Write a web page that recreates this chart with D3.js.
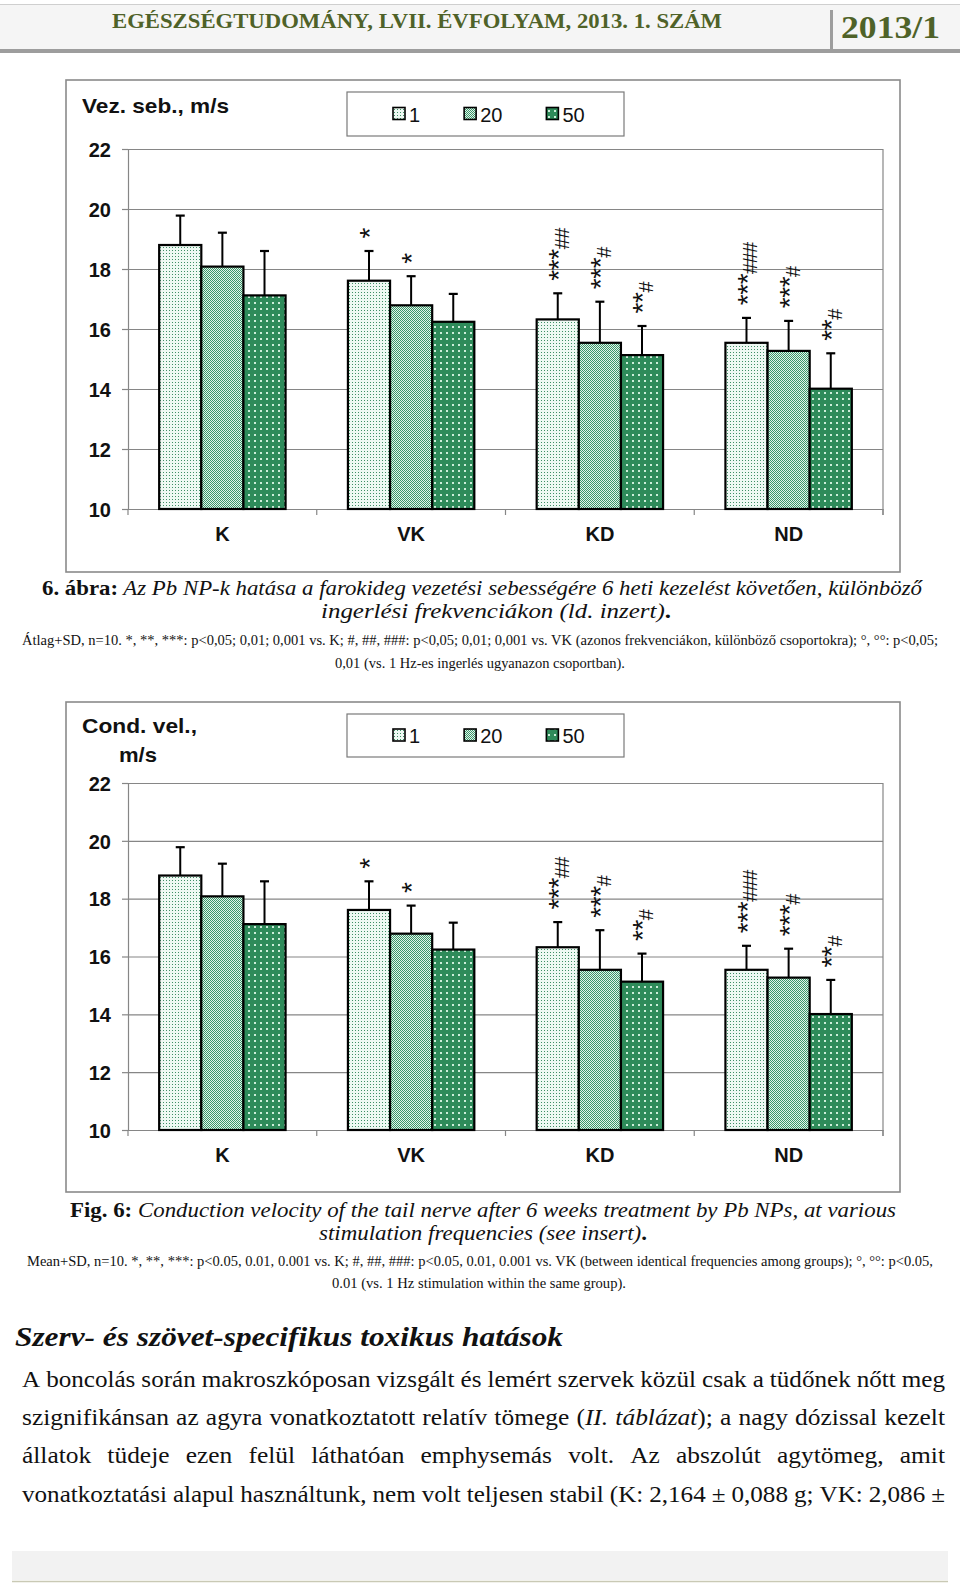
<!DOCTYPE html>
<html><head><meta charset="utf-8">
<script src="https://cdn.jsdelivr.net/npm/d3@7"></script>
<style>body{margin:0;background:#fff} svg{display:block}</style>
</head><body>
<svg id="c" width="960" height="1590"></svg>
<script>
// ---------- DATA ----------
const categories = ["K", "VK", "KD", "ND"];
const series = ["1", "20", "50"];
const mean1Hz  = [18.80, 17.61, 16.32, 15.54];
const mean20Hz = [18.08, 16.79, 15.54, 15.27];
const mean50Hz = [17.12, 16.24, 15.13, 14.01];
const sd1Hz  = [0.98, 0.99, 0.87, 0.83];
const sd20Hz = [1.13, 0.97, 1.37, 1.00];
const sd50Hz = [1.48, 0.93, 0.97, 1.18];
const sig1Hz  = ["", "*", "***##", "***###"];
const sig20Hz = ["", "*", "***#", "***#"];
const sig50Hz = ["", "", "**#", "**#"];
const yTicks = [10, 12, 14, 16, 18, 20, 22];
const yDomain = [10, 22];
const chartTitles = [["Vez. seb., m/s"], ["Cond. vel.,", "m/s"]];

const headerTitle = "EGÉSZSÉGTUDOMÁNY, LVII. ÉVFOLYAM, 2013. 1. SZÁM";
const headerIssue = "2013/1";
const captionHu = [
  [["6. ábra:", "b"], [" Az Pb NP-k hatása a farokideg vezetési sebességére 6 heti kezelést követően, különböző", "i"]],
  [["ingerlési frekvenciákon (ld. inzert)", "i"], [".", "b"]]
];
const notesHu = [
  "Átlag+SD, n=10. *, **, ***: p<0,05; 0,01; 0,001 vs. K; #, ##, ###: p<0,05; 0,01; 0,001 vs. VK (azonos frekvenciákon, különböző csoportokra); °, °°: p<0,05;",
  "0,01 (vs. 1 Hz-es ingerlés ugyanazon csoportban)."
];
const captionEn = [
  [["Fig. 6:", "b"], [" Conduction velocity of the tail nerve after 6 weeks treatment by Pb NPs, at various", "i"]],
  [["stimulation frequencies (see insert)", "i"], [".", "b"]]
];
const notesEn = [
  "Mean+SD, n=10. *, **, ***: p<0.05, 0.01, 0.001 vs. K; #, ##, ###: p<0.05, 0.01, 0.001 vs. VK (between identical frequencies among groups); °, °°: p<0.05,",
  "0.01 (vs. 1 Hz stimulation within the same group)."
];
const sectionHeading = "Szerv- és szövet-specifikus toxikus hatások";
const bodyLines = [
  "A boncolás során makroszkóposan vizsgált és lemért szervek közül csak a tüdőnek nőtt meg",
  "szignifikánsan az agyra vonatkoztatott relatív tömege ({II.} {táblázat}); a nagy dózissal kezelt",
  "állatok tüdeje ezen felül láthatóan emphysemás volt. Az abszolút agytömeg, amit",
  "vonatkoztatási alapul használtunk, nem volt teljesen stabil (K: 2,164 ± 0,088 g; VK: 2,086 ±"
];

// ---------- DRAW ----------
const svg = d3.select("#c");
svg.append("rect").attr("width", 960).attr("height", 1590).attr("fill", "#fff");
const SANS = "'Liberation Sans', Arial, sans-serif";
const SERIF = "'Liberation Serif', 'DejaVu Serif', serif";
const OLIVE = "#4f6228";

// patterns
const defs = svg.append("defs");
function pattern(id, size, bg, dots, dotColor, dotSize) {
  const p = defs.append("pattern").attr("id", id).attr("patternUnits", "userSpaceOnUse")
    .attr("width", size).attr("height", size);
  p.append("rect").attr("width", size).attr("height", size).attr("fill", bg);
  dots.forEach(d => p.append("rect").attr("x", d[0]).attr("y", d[1])
    .attr("width", dotSize).attr("height", dotSize).attr("fill", dotColor));
}
pattern("pat1", 3, "#eef9f3", [[1, 1]], "#3f8f66", 1);
pattern("pat2", 2, "#e3f3ea", [[0, 0], [1, 1]], "#3a966a", 1);
pattern("pat3", 6, "#2e8b5a", [[2, 2]], "#cdeeda", 2);
const patFor = { "1": "url(#pat1)", "20": "url(#pat2)", "50": "url(#pat3)" };

// header
const hdr = svg.append("g");
hdr.append("rect").attr("x", 0).attr("y", 4).attr("width", 960).attr("height", 46).attr("fill", "#f5f5f5");
hdr.append("line").attr("x1", 0).attr("x2", 960).attr("y1", 4.5).attr("y2", 4.5).attr("stroke", "#cfcfcf");
hdr.append("rect").attr("x", 0).attr("y", 49).attr("width", 960).attr("height", 4).attr("fill", "#9d9d9d");
hdr.append("rect").attr("x", 830).attr("y", 10).attr("width", 3).attr("height", 42).attr("fill", "#9d9d9d");
hdr.append("text").attr("x", 112).attr("y", 28).attr("font-family", SERIF).attr("font-weight", "bold")
  .attr("font-size", 22).attr("fill", OLIVE).attr("textLength", 610).attr("lengthAdjust", "spacingAndGlyphs")
  .text(headerTitle);
hdr.append("text").attr("x", 841).attr("y", 38).attr("font-family", SERIF).attr("font-weight", "bold")
  .attr("font-size", 31).attr("fill", OLIVE).attr("textLength", 99).attr("lengthAdjust", "spacingAndGlyphs")
  .text(headerIssue);

// chart rows
const rows = [];
categories.forEach((c, i) => {
  series.forEach((s, j) => {
    rows.push({
      cat: c, ser: s,
      mean: [mean1Hz, mean20Hz, mean50Hz][j][i],
      sd: [sd1Hz, sd20Hz, sd50Hz][j][i],
      sig: [sig1Hz, sig20Hz, sig50Hz][j][i]
    });
  });
});

const layouts = [
  { border: [66, 80, 900, 572], legend: [347, 92, 624, 136], plot: [128, 149, 883, 509],
    titleX: 82, titleY: [113], titleW: [147] },
  { border: [66, 702, 900, 1192], legend: [347, 714, 624, 757], plot: [128, 783, 883, 1130],
    titleX: 82, titleY: [733, 762], titleW: [115, 38], titleX2: 119 }
];

function drawChart(L, titleLines) {
  const g = svg.append("g");
  const [bx0, by0, bx1, by1] = L.border;
  g.append("rect").attr("x", bx0).attr("y", by0).attr("width", bx1 - bx0).attr("height", by1 - by0)
    .attr("fill", "#fff").attr("stroke", "#8a8a8a").attr("stroke-width", 1.6);
  const [px0, py0, px1, py1] = L.plot;
  const y = d3.scaleLinear().domain(yDomain).range([py1, py0]);
  const xCat = d3.scaleBand().domain(categories).range([px0, px1]);
  const xSer = d3.scaleBand().domain(series).range([0, xCat.bandwidth()]).paddingInner(0).paddingOuter(0.74);

  // gridlines
  const grid = g.append("g").attr("transform", `translate(${px0},0)`)
    .call(d3.axisLeft(y).tickValues(yTicks).tickSize(-(px1 - px0)).tickFormat(""));
  grid.select(".domain").remove();
  grid.selectAll("line").attr("stroke", "#868686").attr("stroke-width", 1.2);

  // y axis
  const ya = g.append("g").attr("transform", `translate(${px0},0)`)
    .call(d3.axisLeft(y).tickValues(yTicks).tickSize(6).tickSizeOuter(0).tickPadding(11));
  ya.select(".domain").attr("stroke", "#868686").attr("stroke-width", 1.2);
  ya.selectAll("line").attr("stroke", "#868686").attr("stroke-width", 1.2);
  ya.selectAll("text").attr("font-family", SANS).attr("font-weight", "bold").attr("font-size", 20)
    .attr("fill", "#111").attr("dy", "0.36em");

  // right border of plot
  g.append("line").attr("x1", px1).attr("x2", px1).attr("y1", y(yDomain[1])).attr("y2", py1 + 6)
    .attr("stroke", "#868686").attr("stroke-width", 1.2);
  // category boundary ticks
  const bounds = categories.map(c => xCat(c)).concat([xCat.range()[1]]);
  g.selectAll(".bt").data(bounds).enter().append("line")
    .attr("x1", d => d).attr("x2", d => d).attr("y1", py1).attr("y2", py1 + 6)
    .attr("stroke", "#868686").attr("stroke-width", 1.2);

  // x labels
  const xa = g.append("g").attr("transform", `translate(0,${py1})`)
    .call(d3.axisBottom(xCat).tickSize(0).tickPadding(18));
  xa.select(".domain").attr("stroke", "#868686").attr("stroke-width", 1.2);
  xa.selectAll("text").attr("font-family", SANS).attr("font-weight", "bold").attr("font-size", 20).attr("fill", "#111");

  // bars
  g.selectAll(".bar").data(rows).enter().append("rect")
    .attr("x", d => xCat(d.cat) + xSer(d.ser))
    .attr("width", xSer.bandwidth())
    .attr("y", d => y(d.mean))
    .attr("height", d => y(yDomain[0]) - y(d.mean))
    .attr("fill", d => patFor[d.ser])
    .attr("stroke", "#000").attr("stroke-width", 2.2);

  // error bars
  const cx = d => xCat(d.cat) + xSer(d.ser) + xSer.bandwidth() / 2;
  g.selectAll(".eb").data(rows).enter().append("line")
    .attr("x1", cx).attr("x2", cx).attr("y1", d => y(d.mean)).attr("y2", d => y(d.mean + d.sd))
    .attr("stroke", "#000").attr("stroke-width", 2);
  g.selectAll(".ec").data(rows).enter().append("line")
    .attr("x1", d => cx(d) - 4.5).attr("x2", d => cx(d) + 4.5)
    .attr("y1", d => y(d.mean + d.sd)).attr("y2", d => y(d.mean + d.sd))
    .attr("stroke", "#000").attr("stroke-width", 2.2);

  // significance marks (rotated text, one glyph each)
  rows.forEach(d => {
    if (!d.sig) return;
    const top = y(d.mean + d.sd);
    d.sig.split("").forEach((ch, k) => {
      const star = ch === "*";
      const fs = star ? 28 : 20;
      const cy = top - 18 - k * 10.5;
      const gx = star ? cx(d) - 6 + 0.24 * fs : cx(d) + 4;
      g.append("text").attr("transform", `translate(${gx},${cy}) rotate(-90)`)
        .attr("text-anchor", "middle").attr("dominant-baseline", "central")
        .attr("font-family", SANS).attr("font-size", fs).attr("fill", "#111").text(ch);
    });
  });

  // legend
  const [lx0, ly0, lx1, ly1] = L.legend;
  g.append("rect").attr("x", lx0).attr("y", ly0).attr("width", lx1 - lx0).attr("height", ly1 - ly0)
    .attr("fill", "#fff").attr("stroke", "#7a7a7a").attr("stroke-width", 1.2);
  const lcy = (ly0 + ly1) / 2;
  let lx = 393;
  series.forEach(s => {
    g.append("rect").attr("x", lx).attr("y", lcy - 6.5).attr("width", 12).attr("height", 12)
      .attr("fill", patFor[s]).attr("stroke", "#000").attr("stroke-width", 1.6);
    const t = g.append("text").attr("x", lx + 16).attr("y", lcy + 7.5)
      .attr("font-family", SANS).attr("font-size", 20).attr("fill", "#111").text(s);
    lx += 16 + t.node().getComputedTextLength() + 44;
  });

  // title
  titleLines.forEach((t, i) => {
    g.append("text").attr("x", i === 0 ? L.titleX : L.titleX2).attr("y", L.titleY[i])
      .attr("font-family", SANS).attr("font-weight", "bold").attr("font-size", 21).attr("fill", "#111")
      .attr("textLength", L.titleW[i]).attr("lengthAdjust", "spacingAndGlyphs").text(t);
  });
}
drawChart(layouts[0], chartTitles[0]);
drawChart(layouts[1], chartTitles[1]);

// captions
function styledLine(segs, cxp, yb, fsz, width) {
  const t = svg.append("text").attr("x", cxp).attr("y", yb).attr("text-anchor", "middle")
    .attr("font-family", SERIF).attr("font-size", fsz).attr("fill", "#111")
    .attr("textLength", width).attr("lengthAdjust", "spacingAndGlyphs");
  segs.forEach(([txt, st]) => {
    const ts = t.append("tspan").text(txt);
    if (st === "b") ts.attr("font-weight", "bold");
    if (st === "i") ts.attr("font-style", "italic");
  });
}
styledLine(captionHu[0], 482, 595, 22, 880);
styledLine(captionHu[1], 496, 618, 22, 350);
styledLine([[notesHu[0], ""]], 480, 645, 14, 916);
styledLine([[notesHu[1], ""]], 480, 668, 14, 290);
styledLine(captionEn[0], 483, 1217, 22, 826);
styledLine(captionEn[1], 483, 1240, 22, 328);
styledLine([[notesEn[0], ""]], 480, 1266, 14, 906);
styledLine([[notesEn[1], ""]], 479, 1288, 14, 294);

// section heading
svg.append("text").attr("x", 15).attr("y", 1346).attr("font-family", SERIF).attr("font-weight", "bold")
  .attr("font-style", "italic").attr("font-size", 27).attr("fill", "#111")
  .attr("textLength", 548).attr("lengthAdjust", "spacingAndGlyphs").text(sectionHeading);

// body (word-justified)
function justify(line, yb, x0, x1, fsz, hs) {
  const words = line.split(" ");
  const items = words.map(w => {
    const t = svg.append("text").attr("y", yb).attr("font-family", SERIF).attr("font-size", fsz).attr("fill", "#111");
    const re = /\{([^}]*)\}|[^{]+/g; let m;
    while ((m = re.exec(w)) !== null) {
      if (m[1] !== undefined) t.append("tspan").attr("font-style", "italic").text(m[1]);
      else t.append("tspan").text(m[0]);
    }
    return { t, w: t.node().getComputedTextLength() };
  });
  const W = d3.sum(items, d => d.w) * hs;
  const n = items.length;
  const avail = x1 - x0;
  const minGap = 0.25 * fsz;
  const s = hs * Math.min(1, (avail - (n - 1) * minGap) / W);
  const gap = (avail - d3.sum(items, d => d.w) * s) / (n - 1);
  let x = x0;
  items.forEach(it => {
    it.t.attr("x", x).attr("textLength", it.w * s).attr("lengthAdjust", "spacingAndGlyphs");
    x += it.w * s + gap;
  });
}
const bodyY = [1387, 1425, 1463, 1502];
bodyLines.forEach((l, i) => justify(l, bodyY[i], 22, 945, 24, 1.06));

// footer
svg.append("rect").attr("x", 12).attr("y", 1551).attr("width", 936).attr("height", 29).attr("fill", "#f2f2f2");
svg.append("line").attr("x1", 12).attr("x2", 948).attr("y1", 1581.5).attr("y2", 1581.5).attr("stroke", "#c9c9b5").attr("stroke-width", 1.5);
</script>
</body></html>
